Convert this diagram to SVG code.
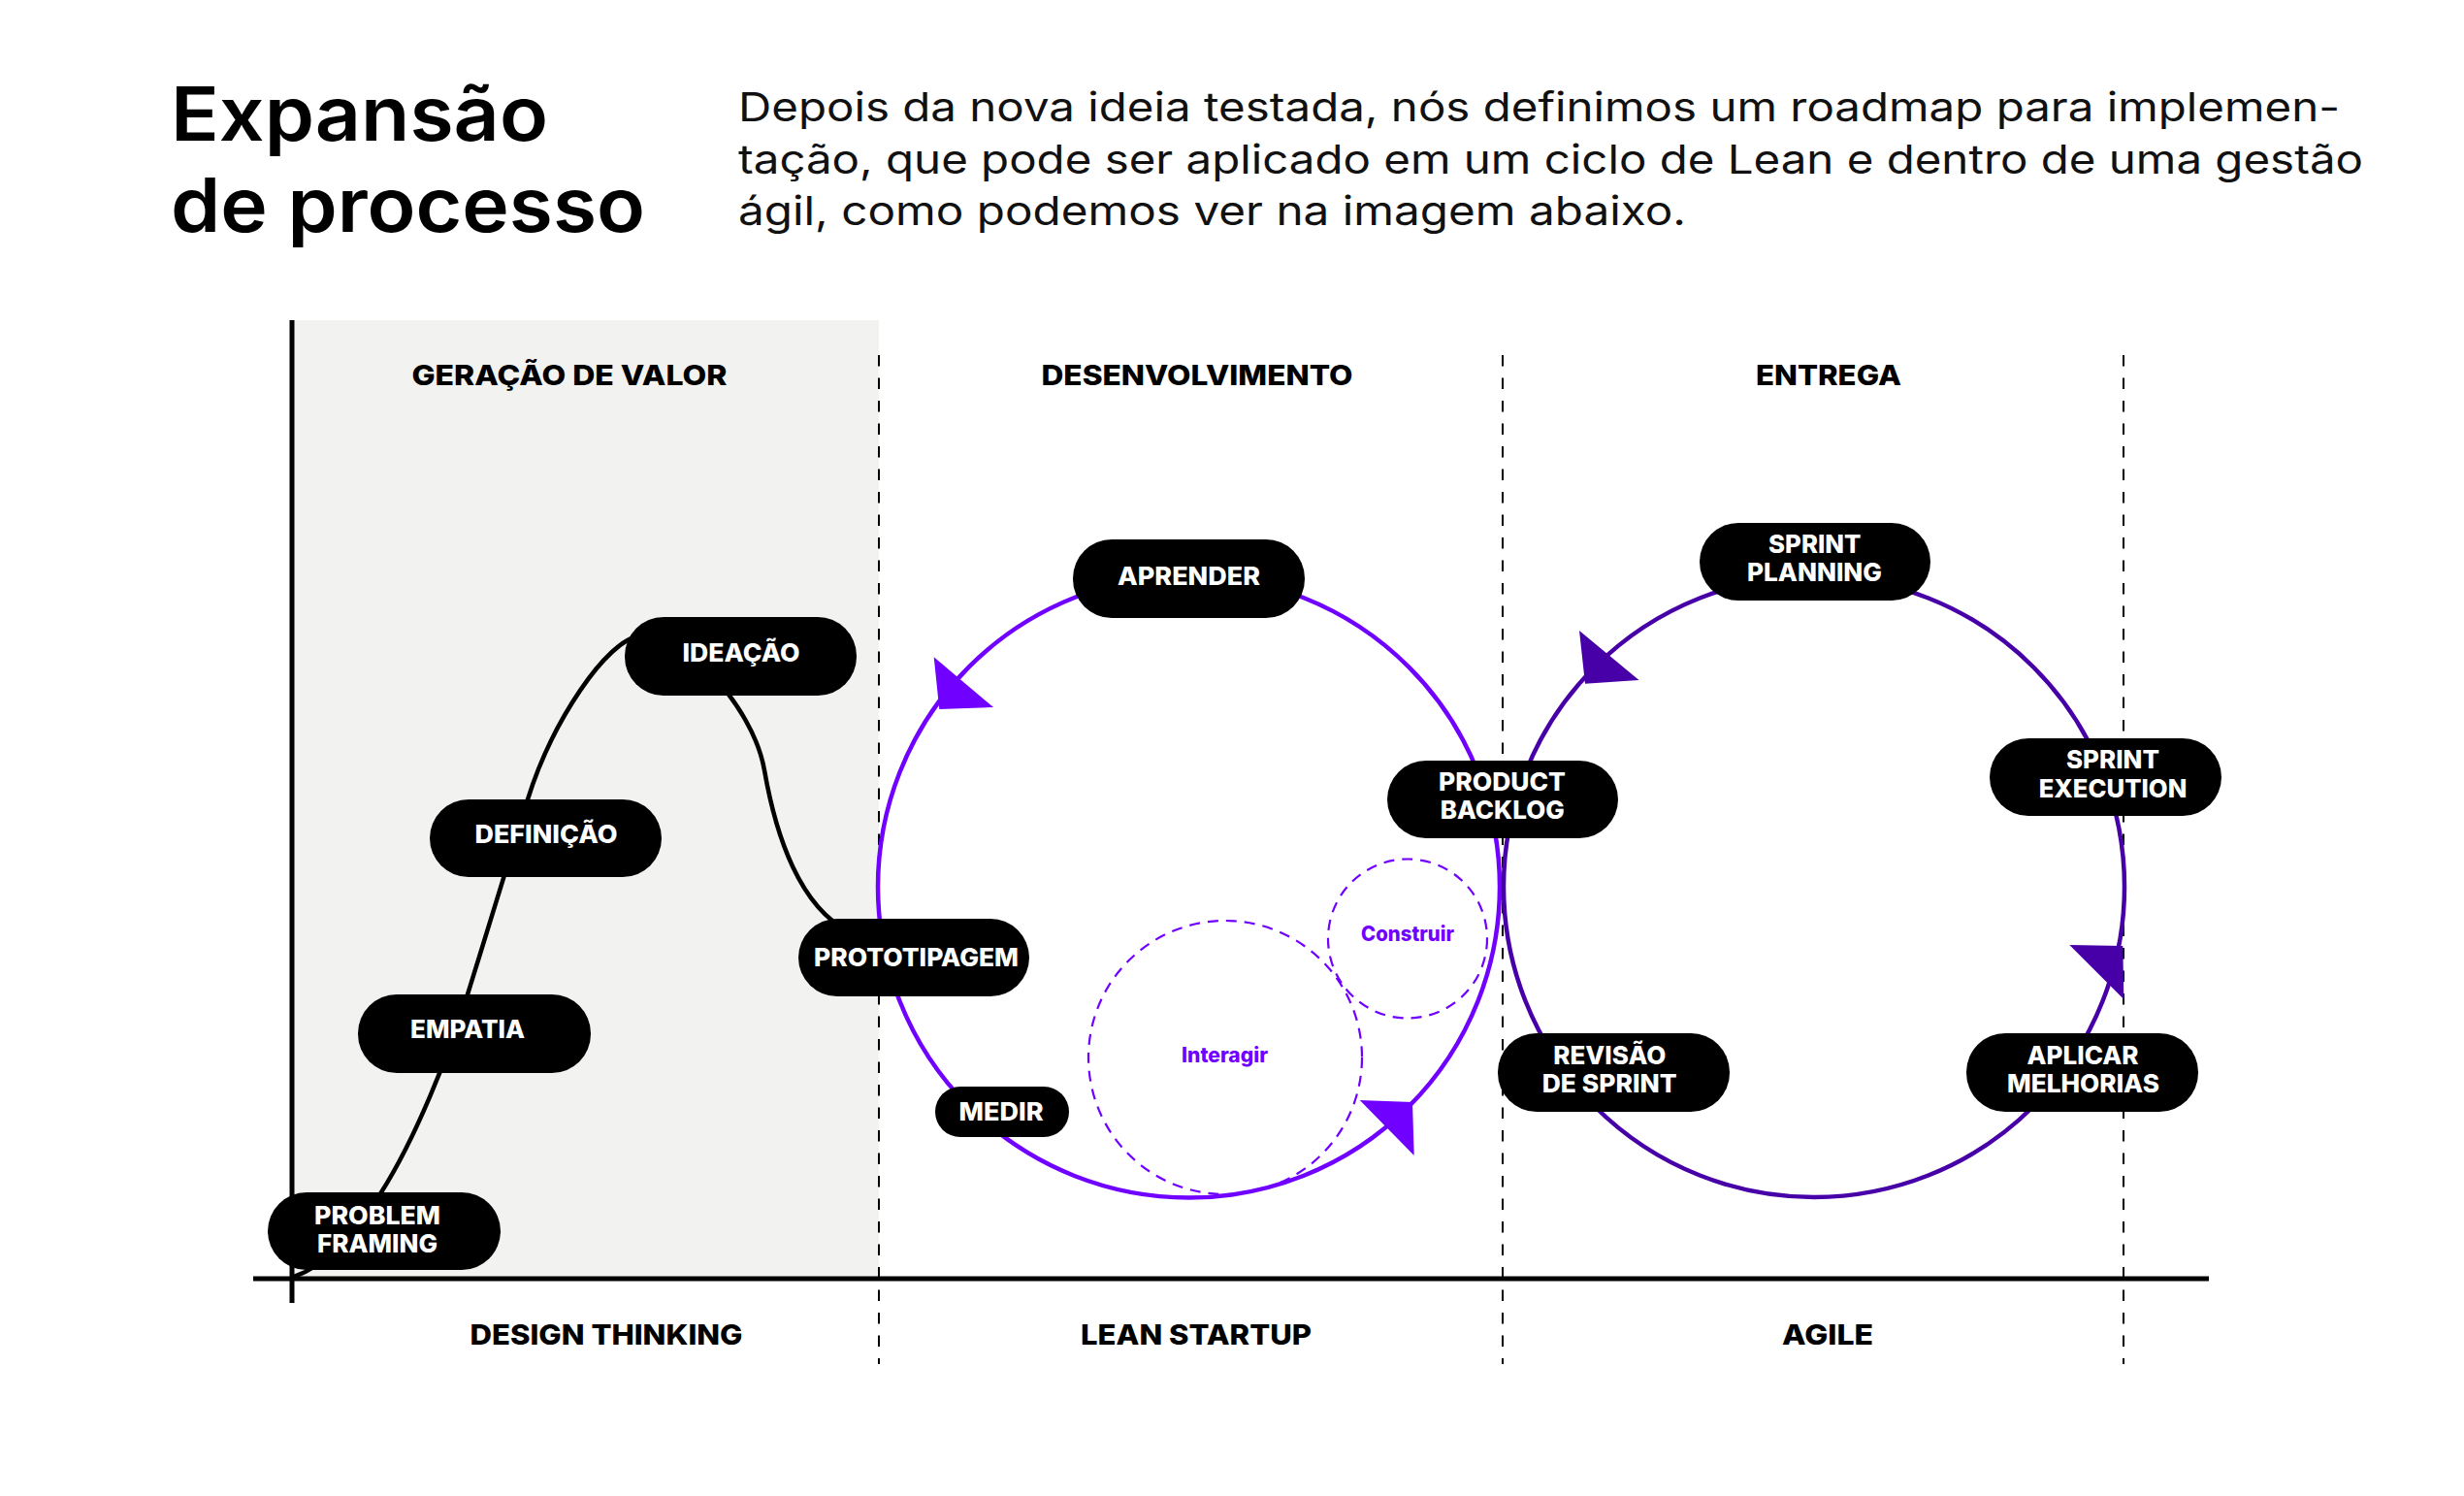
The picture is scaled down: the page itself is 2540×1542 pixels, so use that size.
<svg xmlns="http://www.w3.org/2000/svg" width="2540" height="1542" viewBox="0 0 2540 1542">
<style>
.ttl{font-family:Inter,"Liberation Sans",sans-serif;font-weight:600;font-size:77px;fill:#000}
.body{font-family:Inter,"Liberation Sans",sans-serif;font-weight:400;font-size:41px;fill:#111}
.sec{font-family:Inter,"Liberation Sans",sans-serif;font-weight:800;font-size:28.5px;fill:#000;text-anchor:middle}
.pill{fill:#000}
.lbl{font-family:Inter,"Liberation Sans",sans-serif;font-weight:800;font-size:25.5px;fill:#fff;text-anchor:middle}
.sub{font-family:Inter,"Liberation Sans",sans-serif;font-weight:800;font-size:21px;fill:#7000ff;text-anchor:middle}
.vdash{stroke:#000;stroke-width:2;stroke-dasharray:11.5 12;fill:none}
.axis{stroke:#000;stroke-width:5;fill:none}
.curve{stroke:#000;stroke-width:4.5;fill:none}
.lean{stroke:#7000ff;stroke-width:4.5;fill:none}
.agile{stroke:#4700a8;stroke-width:4.5;fill:none}
.dcirc{stroke:#7000ff;stroke-width:2.2;stroke-dasharray:11 8;fill:none}
.ahl{fill:#7000ff}
.aha{fill:#4700a8}
</style>

<g id="header">
<text class="ttl" x="176" y="145" textLength="389" lengthAdjust="spacingAndGlyphs">Expansão</text>
<text class="ttl" x="176" y="239" textLength="489" lengthAdjust="spacingAndGlyphs">de processo</text>
<text class="body" x="761" y="125" textLength="1651" lengthAdjust="spacingAndGlyphs">Depois da nova ideia testada, nós definimos um roadmap para implemen-</text>
<text class="body" x="761" y="178.5" textLength="1675" lengthAdjust="spacingAndGlyphs">tação, que pode ser aplicado em um ciclo de Lean e dentro de uma gestão</text>
<text class="body" x="761" y="232" textLength="977" lengthAdjust="spacingAndGlyphs">ágil, como podemos ver na imagem abaixo.</text>
</g>

<g id="background">
<rect x="301" y="330" width="605" height="988" fill="#f2f2f0"/>
<line class="vdash" x1="906" y1="366" x2="906" y2="1406"/>
<line class="vdash" x1="1549" y1="366" x2="1549" y2="1406"/>
<line class="vdash" x1="2189" y1="366" x2="2189" y2="1406"/>
<line class="axis" x1="301" y1="330" x2="301" y2="1343"/>
<line class="axis" x1="261" y1="1318" x2="2277" y2="1318"/>
</g>

<g id="sections">
<text class="sec" x="587" y="397" textLength="325" lengthAdjust="spacingAndGlyphs">GERAÇÃO DE VALOR</text>
<text class="sec" x="1234" y="397" textLength="321" lengthAdjust="spacingAndGlyphs">DESENVOLVIMENTO</text>
<text class="sec" x="1885" y="397" textLength="150" lengthAdjust="spacingAndGlyphs">ENTREGA</text>
<text class="sec" x="625" y="1386" textLength="281" lengthAdjust="spacingAndGlyphs">DESIGN THINKING</text>
<text class="sec" x="1233" y="1386" textLength="238" lengthAdjust="spacingAndGlyphs">LEAN STARTUP</text>
<text class="sec" x="1884" y="1386" textLength="94" lengthAdjust="spacingAndGlyphs">AGILE</text>
</g>

<g id="connectors">
<path class="curve" d="M303,1316 C335,1305 368,1272 393,1229 C428,1174 462,1089 482,1025 C502,961 519,904 544,824 C569,744 625,660 660,655 C700,649 776,725 788,794 C800,863 825,935 875,960"/>
<circle class="lean" cx="1225.5" cy="914" r="320.5"/>
<circle class="agile" cx="1870" cy="914" r="320"/>
<circle class="dcirc" cx="1263" cy="1090" r="141"/>
<circle class="dcirc" cx="1451" cy="967.5" r="82"/>
<polygon class="ahl" points="962.7,677.3 1024,729 968.3,731"/>
<polygon class="ahl" points="1401.7,1134 1456,1136 1457.7,1191"/>
<polygon class="aha" points="1628,650 1689.5,701 1634,704.7"/>
<polygon class="aha" points="2133.3,974 2188.3,975 2189.3,1030"/>
</g>

<g id="sub-construir">
<text class="sub" x="1451" y="970" textLength="96" lengthAdjust="spacingAndGlyphs">Construir</text>
</g>
<g id="sub-interagir">
<text class="sub" x="1262.5" y="1095" textLength="89" lengthAdjust="spacingAndGlyphs">Interagir</text>
</g>

<g id="node-problem-framing">
<rect class="pill" x="276" y="1229" width="240" height="80" rx="40"/>
<text class="lbl" x="389" y="1262" textLength="130" lengthAdjust="spacingAndGlyphs">PROBLEM</text>
<text class="lbl" x="389" y="1291" textLength="124" lengthAdjust="spacingAndGlyphs">FRAMING</text>
</g>
<g id="node-empatia">
<rect class="pill" x="369" y="1025" width="240" height="81" rx="40"/>
<text class="lbl" x="482" y="1070" textLength="118" lengthAdjust="spacingAndGlyphs">EMPATIA</text>
</g>
<g id="node-definicao">
<rect class="pill" x="443" y="824" width="239" height="80" rx="40"/>
<text class="lbl" x="563" y="869" textLength="147" lengthAdjust="spacingAndGlyphs">DEFINIÇÃO</text>
</g>
<g id="node-ideacao">
<rect class="pill" x="644" y="636" width="239" height="81" rx="40"/>
<text class="lbl" x="764" y="682" textLength="121" lengthAdjust="spacingAndGlyphs">IDEAÇÃO</text>
</g>
<g id="node-prototipagem">
<rect class="pill" x="823" y="947" width="238" height="80" rx="40"/>
<text class="lbl" x="944.5" y="996" textLength="211" lengthAdjust="spacingAndGlyphs">PROTOTIPAGEM</text>
</g>
<g id="node-aprender">
<rect class="pill" x="1106" y="556" width="239" height="81" rx="40"/>
<text class="lbl" x="1225.5" y="603" textLength="147" lengthAdjust="spacingAndGlyphs">APRENDER</text>
</g>
<g id="node-medir">
<rect class="pill" x="964" y="1120" width="138" height="52" rx="26"/>
<text class="lbl" x="1032" y="1155" textLength="87" lengthAdjust="spacingAndGlyphs">MEDIR</text>
</g>
<g id="node-product-backlog">
<rect class="pill" x="1430" y="784" width="238" height="80" rx="40"/>
<text class="lbl" x="1548.5" y="815" textLength="131" lengthAdjust="spacingAndGlyphs">PRODUCT</text>
<text class="lbl" x="1548.8" y="844" textLength="128" lengthAdjust="spacingAndGlyphs">BACKLOG</text>
</g>
<g id="node-sprint-planning">
<rect class="pill" x="1752" y="539" width="238" height="80" rx="40"/>
<text class="lbl" x="1870.8" y="569.5" textLength="95.4" lengthAdjust="spacingAndGlyphs">SPRINT</text>
<text class="lbl" x="1870.5" y="599" textLength="139" lengthAdjust="spacingAndGlyphs">PLANNING</text>
</g>
<g id="node-sprint-execution">
<rect class="pill" x="2051" y="761" width="239" height="80" rx="40"/>
<text class="lbl" x="2178" y="792" textLength="96" lengthAdjust="spacingAndGlyphs">SPRINT</text>
<text class="lbl" x="2178" y="822" textLength="152.6" lengthAdjust="spacingAndGlyphs">EXECUTION</text>
</g>
<g id="node-revisao-de-sprint">
<rect class="pill" x="1544" y="1065" width="239" height="81" rx="40"/>
<text class="lbl" x="1659.3" y="1096.5" textLength="116" lengthAdjust="spacingAndGlyphs">REVISÃO</text>
<text class="lbl" x="1659.2" y="1126" textLength="139" lengthAdjust="spacingAndGlyphs">DE SPRINT</text>
</g>
<g id="node-aplicar-melhorias">
<rect class="pill" x="2027" y="1065" width="239" height="81" rx="40"/>
<text class="lbl" x="2147" y="1096.5" textLength="115" lengthAdjust="spacingAndGlyphs">APLICAR</text>
<text class="lbl" x="2147.5" y="1126" textLength="157" lengthAdjust="spacingAndGlyphs">MELHORIAS</text>
</g>
</svg>
